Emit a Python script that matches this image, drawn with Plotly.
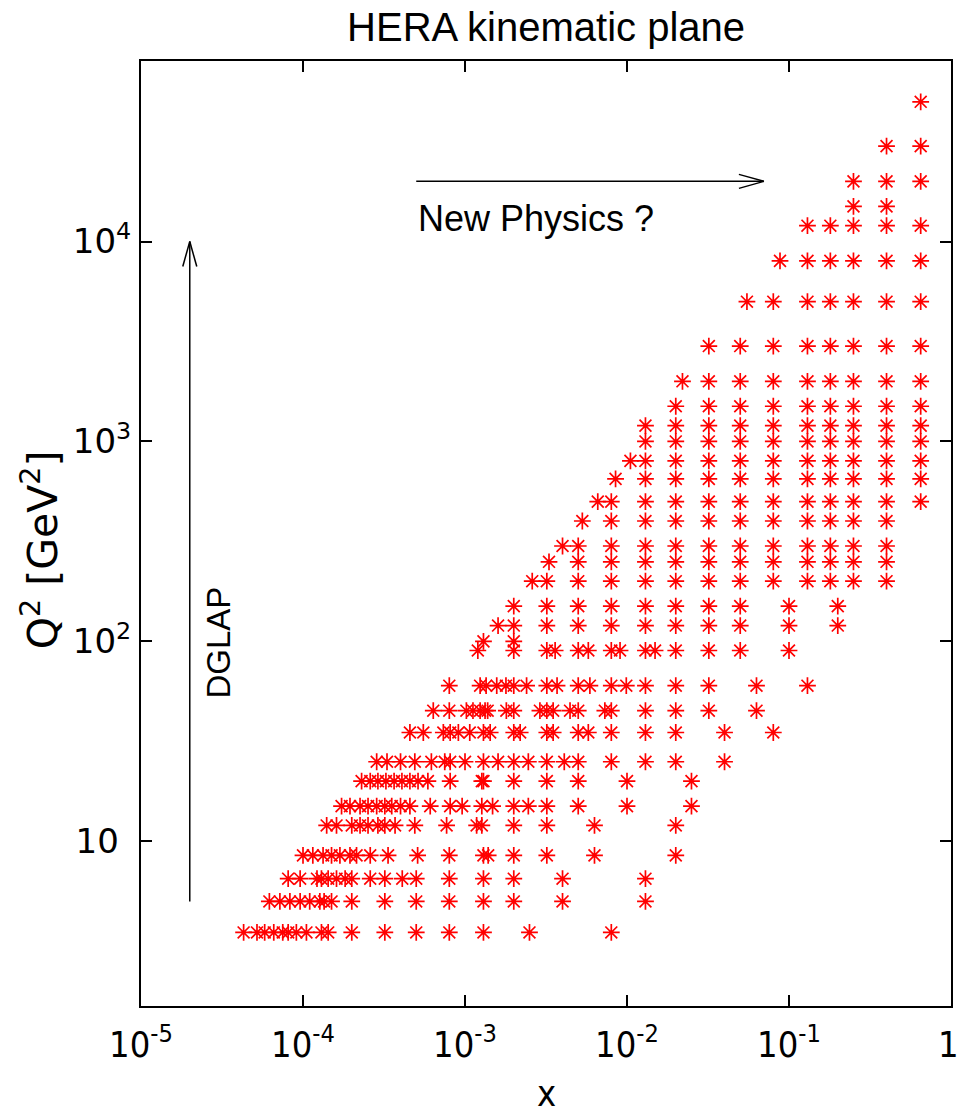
import math
import plotly.graph_objects as go

# Q^2 rows [GeV^2] and the x values measured in each row
q2_rows = [3.5, 5, 6.5, 8.5, 12, 15, 20, 25, 35, 45, 60, 90, 100, 120, 150, 200, 250,
           300, 400, 500, 650, 800, 1000, 1200, 1500, 2000, 3000, 5000, 8000, 12000,
           15000, 20000, 30000, 50000]

x_q2_3p5 = [4.3e-5, 5.2e-5, 5.8e-5, 6.6e-5, 7.5e-5, 8.1e-5, 9.1e-5, 1.05e-4, 1.3e-4, 1.43e-4,
            2.0e-4, 3.2e-4, 5.0e-4, 8.0e-4, 1.3e-3, 2.5e-3, 8.0e-3]
x_q2_5 = [6.2e-5, 7.2e-5, 8.3e-5, 9.6e-5, 1.1e-4, 1.27e-4, 1.35e-4, 1.5e-4, 2.0e-4, 3.2e-4,
          5.0e-4, 8.0e-4, 1.3e-3, 2.0e-3, 4.0e-3, 1.3e-2]
x_q2_6p5 = [8.1e-5, 9.6e-5, 1.22e-4, 1.3e-4, 1.43e-4, 1.61e-4, 1.82e-4, 2.0e-4, 2.6e-4, 3.2e-4,
            4.1e-4, 5.0e-4, 8.0e-4, 1.3e-3, 2.0e-3, 4.0e-3, 1.3e-2]
x_q2_8p5 = [1.0e-4, 1.15e-4, 1.33e-4, 1.5e-4, 1.69e-4, 1.95e-4, 2.14e-4, 2.6e-4, 3.35e-4, 5.1e-4,
            8.0e-4, 1.3e-3, 1.39e-3, 2.0e-3, 3.2e-3, 6.3e-3, 2.0e-2]
x_q2_12 = [1.4e-4, 1.61e-4, 2.0e-4, 2.25e-4, 2.52e-4, 2.9e-4, 3.2e-4, 3.7e-4, 4.9e-4, 7.7e-4,
           1.18e-3, 1.27e-3, 2.0e-3, 3.2e-3, 6.3e-3, 2.0e-2]
x_q2_15 = [1.73e-4, 1.95e-4, 2.25e-4, 2.52e-4, 2.85e-4, 3.2e-4, 3.53e-4, 4.0e-4, 4.57e-4, 6.1e-4,
           8.1e-4, 9.6e-4, 1.27e-3, 1.48e-3, 2.0e-3, 2.46e-3, 3.2e-3, 5.0e-3, 1.0e-2, 2.5e-2]
x_q2_20 = [2.3e-4, 2.6e-4, 2.9e-4, 3.25e-4, 3.65e-4, 4.08e-4, 4.57e-4, 5.13e-4, 5.9e-4, 8.1e-4,
           1.27e-3, 1.3e-3, 2.0e-3, 3.2e-3, 5.0e-3, 1.0e-2, 2.5e-2]
x_q2_25 = [2.85e-4, 3.3e-4, 4.0e-4, 4.9e-4, 6.2e-4, 7.5e-4, 8.1e-4, 1.0e-3, 1.3e-3, 1.6e-3,
           2.0e-3, 2.46e-3, 3.2e-3, 4.1e-3, 5.0e-3, 8.0e-3, 1.3e-2, 2.0e-2, 4.0e-2]
x_q2_35 = [4.57e-4, 5.53e-4, 7.35e-4, 8.1e-4, 9.1e-4, 1.07e-3, 1.3e-3, 1.43e-3, 2.0e-3, 2.19e-3,
           3.2e-3, 3.5e-3, 5.0e-3, 5.77e-3, 8.0e-3, 1.3e-2, 2.0e-2, 4.0e-2, 8.0e-2]
x_q2_45 = [6.37e-4, 8.0e-4, 1.02e-3, 1.12e-3, 1.24e-3, 1.33e-3, 1.38e-3, 1.8e-3, 2.0e-3, 2.9e-3,
           3.2e-3, 3.5e-3, 4.45e-3, 5.0e-3, 7.3e-3, 8.0e-3, 1.3e-2, 2.0e-2, 3.2e-2, 6.3e-2]
x_q2_60 = [8.0e-4, 1.24e-3, 1.35e-3, 1.57e-3, 1.79e-3, 2.0e-3, 2.4e-3, 3.2e-3, 3.7e-3, 5.0e-3,
           5.9e-3, 8.0e-3, 9.9e-3, 1.3e-2, 2.0e-2, 3.2e-2, 6.3e-2, 0.13]
x_q2_90 = [1.2e-3, 2.0e-3, 3.2e-3, 3.6e-3, 5.0e-3, 5.77e-3, 8.0e-3, 9.06e-3, 1.3e-2, 1.49e-2,
           2.0e-2, 3.2e-2, 5.0e-2, 0.1]
x_q2_100 = [1.3e-3, 2.0e-3]
x_q2_120 = [1.6e-3, 2.0e-3, 3.2e-3, 5.0e-3, 8.0e-3, 1.3e-2, 2.0e-2, 3.2e-2, 5.0e-2, 0.1, 0.2]
x_q2_150 = [2.0e-3, 3.2e-3, 5.0e-3, 8.0e-3, 1.3e-2, 2.0e-2, 3.2e-2, 5.0e-2, 0.1, 0.2]
x_q2_200 = [2.6e-3, 3.2e-3, 5.0e-3, 8.0e-3, 1.3e-2, 2.0e-2, 3.2e-2, 5.0e-2, 8.0e-2, 0.13, 0.18,
            0.25, 0.4]
x_q2_250 = [3.3e-3, 5.0e-3, 8.0e-3, 1.3e-2, 2.0e-2, 3.2e-2, 5.0e-2, 8.0e-2, 0.13, 0.18, 0.25, 0.4]
x_q2_300 = [4.0e-3, 5.0e-3, 8.0e-3, 1.3e-2, 2.0e-2, 3.2e-2, 5.0e-2, 8.0e-2, 0.13, 0.18, 0.25, 0.4]
x_q2_400 = [5.3e-3, 8.0e-3, 1.3e-2, 2.0e-2, 3.2e-2, 5.0e-2, 8.0e-2, 0.13, 0.18, 0.25, 0.4]
x_q2_500 = [6.6e-3, 8.0e-3, 1.3e-2, 2.0e-2, 3.2e-2, 5.0e-2, 8.0e-2, 0.13, 0.18, 0.25, 0.4, 0.65]
x_q2_650 = [8.5e-3, 1.3e-2, 2.0e-2, 3.2e-2, 5.0e-2, 8.0e-2, 0.13, 0.18, 0.25, 0.4, 0.65]
x_q2_800 = [1.05e-2, 1.3e-2, 2.0e-2, 3.2e-2, 5.0e-2, 8.0e-2, 0.13, 0.18, 0.25, 0.4, 0.65]
x_q2_1000 = [1.3e-2, 2.0e-2, 3.2e-2, 5.0e-2, 8.0e-2, 0.13, 0.18, 0.25, 0.4, 0.65]
x_q2_1200 = [1.3e-2, 2.0e-2, 3.2e-2, 5.0e-2, 8.0e-2, 0.13, 0.18, 0.25, 0.4, 0.65]
x_q2_1500 = [2.0e-2, 3.2e-2, 5.0e-2, 8.0e-2, 0.13, 0.18, 0.25, 0.4, 0.65]
x_q2_2000 = [2.2e-2, 3.2e-2, 5.0e-2, 8.0e-2, 0.13, 0.18, 0.25, 0.4, 0.65]
x_q2_3000 = [3.2e-2, 5.0e-2, 8.0e-2, 0.13, 0.18, 0.25, 0.4, 0.65]
x_q2_5000 = [5.5e-2, 8.0e-2, 0.13, 0.18, 0.25, 0.4, 0.65]
x_q2_8000 = [8.8e-2, 0.13, 0.18, 0.25, 0.4, 0.65]
x_q2_12000 = [0.13, 0.18, 0.25, 0.4, 0.65]
x_q2_15000 = [0.25, 0.4]
x_q2_20000 = [0.25, 0.4, 0.65]
x_q2_30000 = [0.4, 0.65]
x_q2_50000 = [0.65]

x_rows = [x_q2_3p5, x_q2_5, x_q2_6p5, x_q2_8p5, x_q2_12, x_q2_15, x_q2_20, x_q2_25, x_q2_35,
          x_q2_45, x_q2_60, x_q2_90, x_q2_100, x_q2_120, x_q2_150, x_q2_200, x_q2_250,
          x_q2_300, x_q2_400, x_q2_500, x_q2_650, x_q2_800, x_q2_1000, x_q2_1200, x_q2_1500,
          x_q2_2000, x_q2_3000, x_q2_5000, x_q2_8000, x_q2_12000, x_q2_15000, x_q2_20000,
          x_q2_30000, x_q2_50000]

# tick labels ("1" at the right end is drawn as a separate text so it stays inside the page)
x_tick_vals = [1e-5, 1e-4, 1e-3, 1e-2, 1e-1, 1]
x_tick_text = ["10<sup>-5</sup>", "10<sup>-4</sup>", "10<sup>-3</sup>", "10<sup>-2</sup>",
               "10<sup>-1</sup>", ""]
x_last_label = "1"
y_tick_vals = [10, 100, 1000, 10000]
y_tick_text = ["10<sup>\u00a0\u2009</sup>", "10<sup>2</sup>", "10<sup>3</sup>", "10<sup>4</sup>"]

# axis ranges
x_range = [1e-5, 1.0]
y_range = [1.5, 80000.0]

# arrows / labels (data coordinates)
np_arrow = dict(x0=5e-4, x1=0.07, q2=2e4)
dglap_arrow = dict(x=2e-5, q0=5, q1=1e4)

FONT = "Liberation Sans, Arial, Helvetica, sans-serif"
FONT_NARROW = "Liberation Sans Narrow, DejaVu Sans Condensed, Arial Narrow, Liberation Sans, sans-serif"
FONT_WIDE = "DejaVu Sans, Verdana, Liberation Sans, sans-serif"

W, H = 958, 1117
M = dict(l=141, r=7, t=61, b=111)
PLOT_H = H - M["t"] - M["b"]
px_per_dec_x = (W - M["l"] - M["r"]) / (math.log10(x_range[1]) - math.log10(x_range[0]))
px_per_dec_y = PLOT_H / (math.log10(y_range[1]) - math.log10(y_range[0]))
HEAD_LEN, HEAD_HALF = 25, 7

xs, ys = [], []
for q2, xr in zip(q2_rows, x_rows):
    for xv in xr:
        xs.append(xv)
        ys.append(q2)

fig = go.Figure()
fig.add_trace(go.Scatter(
    x=xs, y=ys, mode="markers",
    marker=dict(symbol="asterisk-open", size=14, color="#ff0000",
                line=dict(color="#ff0000", width=1.7)),
    hoverinfo="x+y", showlegend=False))

axis_common = dict(showline=True, linecolor="black", linewidth=2, mirror="ticks",
                   ticks="inside", ticklen=11, tickwidth=1.5, tickcolor="black",
                   showgrid=False, zeroline=False, automargin=False)

fig.update_xaxes(type="log", range=[math.log10(v) for v in x_range],
                 tickvals=x_tick_vals, ticktext=x_tick_text,
                 tickfont=dict(size=36, family=FONT_NARROW, color="black"),
                 ticklabelstandoff=6, **axis_common)
fig.update_yaxes(type="log", range=[math.log10(v) for v in y_range],
                 tickvals=y_tick_vals, ticktext=y_tick_text,
                 tickfont=dict(size=34, family=FONT_WIDE, color="black"),
                 ticklabelstandoff=1, **axis_common)

line_style = dict(color="black", width=1.5)

# arrow head helpers (offsets in pixels converted to log-axis data units)
def xshift(x, px):
    return x * 10 ** (px / px_per_dec_x)

def yshift(y, px):
    return y * 10 ** (px / px_per_dec_y)

tip_x, tip_y = np_arrow["x1"], np_arrow["q2"]
vt_x, vt_y = dglap_arrow["x"], dglap_arrow["q1"]
shapes = [
    dict(type="line", xref="x", yref="y", x0=np_arrow["x0"], x1=tip_x,
         y0=tip_y, y1=tip_y, line=line_style),
    dict(type="line", xref="x", yref="y", x0=xshift(tip_x, -HEAD_LEN), y0=yshift(tip_y, HEAD_HALF),
         x1=tip_x, y1=tip_y, line=line_style),
    dict(type="line", xref="x", yref="y", x0=xshift(tip_x, -HEAD_LEN), y0=yshift(tip_y, -HEAD_HALF),
         x1=tip_x, y1=tip_y, line=line_style),
    dict(type="line", xref="x", yref="y", x0=vt_x, x1=vt_x,
         y0=dglap_arrow["q0"], y1=vt_y, line=line_style),
    dict(type="line", xref="x", yref="y", x0=xshift(vt_x, -HEAD_HALF), y0=yshift(vt_y, -HEAD_LEN),
         x1=vt_x, y1=vt_y, line=line_style),
    dict(type="line", xref="x", yref="y", x0=xshift(vt_x, HEAD_HALF), y0=yshift(vt_y, -HEAD_LEN),
         x1=vt_x, y1=vt_y, line=line_style),
]

annotations = [
    dict(text="New Physics ?", xref="x", yref="y", x=math.log10(5e-4), y=math.log10(13000),
         xanchor="left", yanchor="middle", showarrow=False,
         font=dict(size=36, family=FONT, color="black")),
    dict(text="DGLAP", xref="x", yref="y", x=math.log10(3e-5), y=math.log10(99),
         xanchor="center", yanchor="middle", textangle=-90, showarrow=False,
         font=dict(size=33, family=FONT, color="black")),
    dict(text="Q<sup>2</sup> [GeV<sup>2</sup>]", xref="paper", yref="paper",
         x=-0.125, y=0.483, xanchor="center", yanchor="middle", textangle=-90,
         showarrow=False, font=dict(size=41, family=FONT_WIDE, color="black")),
    dict(text="x", xref="paper", yref="paper", x=0.5, y=-0.1164, xanchor="center",
         yanchor="bottom", showarrow=False, font=dict(size=36, family=FONT_NARROW, color="black")),
    dict(text=x_last_label, xref="x", yref="paper", x=math.log10(x_tick_vals[-1]),
         y=-38 / PLOT_H, xshift=-3, xanchor="center", yanchor="middle", showarrow=False,
         font=dict(size=36, family=FONT_NARROW, color="black")),
]

fig.update_layout(
    width=W, height=H,
    margin=M,
    plot_bgcolor="white", paper_bgcolor="white",
    title=dict(text="HERA kinematic plane", x=0.57, xanchor="center", y=1 - 27 / H,
               yanchor="middle", font=dict(size=40, family=FONT, color="black")),
    shapes=shapes, annotations=annotations, showlegend=False,
)

fig.write_html("out.html")
